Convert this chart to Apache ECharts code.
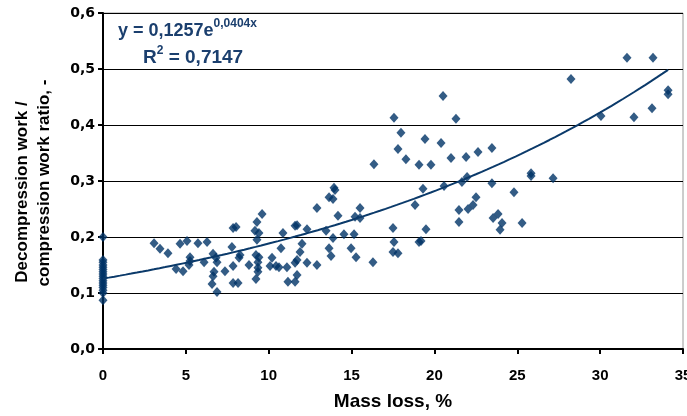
<!DOCTYPE html>
<html>
<head>
<meta charset="utf-8">
<script src="https://cdn.jsdelivr.net/npm/echarts@6/dist/echarts.min.js"></script>
<style>html,body{margin:0;padding:0;background:#fff;}#c{width:687px;height:416px;}</style>
</head>
<body>
<div id="c"></div>
<script>
// Mass loss at x = 0 (cluster)
const zeroY = [0.200, 0.159, 0.155, 0.150, 0.146, 0.142, 0.138, 0.134, 0.130, 0.126, 0.122, 0.118, 0.114, 0.110, 0.105, 0.100, 0.087];
// Mass loss, %
const massLoss = [3.08,3.44,3.92,4.41,4.83,4.65,5.07,5.25,5.25,5.19,5.73,6.10,6.28,6.64,6.82,6.88,6.70,6.64,6.58,6.88,
  7.36,7.78,7.85,7.85,8.03,7.85,8.15,8.27,8.21,8.81,9.17,9.29,9.60,9.41,9.29,9.23,9.41,9.35,9.35,9.35,9.23,
  10.20,10.08,10.44,10.62,10.74,10.86,11.10,11.16,11.59,11.71,11.59,11.71,11.89,12.01,11.59,11.71,12.31,12.31,
  12.91,12.91,13.46,13.64,13.88,13.94,14.00,14.18,13.88,13.64,13.76,14.54,15.15,14.97,15.27,15.21,15.51,15.51,
  16.29,16.35,17.50,17.56,17.50,17.80,17.56,17.98,17.80,18.28,19.07,19.79,19.43,20.40,20.52,21.30,21.00,21.91,
  22.63,23.47,18.83,19.31,20.58,21.66,21.97,22.51,22.33,22.03,21.48,21.48,19.49,19.07,19.19,23.47,23.54,23.84,
  24.08,23.96,24.80,25.29,25.83,25.83,27.16,28.24,30.05,31.62,33.19,32.04,33.13,34.10,34.10];
// Decompression work / compression work ratio
const workRatio = [0.189,0.179,0.171,0.143,0.139,0.188,0.193,0.164,0.157,0.150,0.189,0.155,0.191,0.170,0.163,0.155,0.138,0.130,0.116,0.102,
  0.139,0.182,0.148,0.216,0.218,0.118,0.118,0.168,0.163,0.150,0.211,0.227,0.241,0.207,0.195,0.168,0.164,0.155,0.145,0.138,0.125,
  0.163,0.148,0.148,0.146,0.180,0.207,0.146,0.120,0.120,0.132,0.154,0.159,0.173,0.188,0.220,0.221,0.214,0.154,
  0.150,0.252,0.211,0.271,0.268,0.288,0.284,0.238,0.198,0.180,0.166,0.205,0.205,0.180,0.164,0.236,0.234,0.252,
  0.155,0.330,0.216,0.191,0.173,0.171,0.413,0.386,0.357,0.339,0.329,0.329,0.375,0.368,0.452,0.411,0.341,0.343,
  0.352,0.359,0.257,0.286,0.291,0.298,0.307,0.271,0.257,0.250,0.248,0.227,0.214,0.191,0.193,0.296,0.234,0.241,
  0.225,0.213,0.280,0.225,0.314,0.309,0.305,0.482,0.416,0.520,0.520,0.414,0.430,0.462,0.455];
// Exponential trendline y = a * e^(b x)
const trendA = 0.1257, trendB = 0.0404;
const xTicks = [0, 5, 10, 15, 20, 25, 30, 35];
const yTicks = [0, 0.1, 0.2, 0.3, 0.4, 0.5, 0.6];

const points = zeroY.map(v => [0, v]).concat(massLoss.map((x, i) => [x, workRatio[i]]));
const xMaxData = Math.max.apply(null, massLoss);
const trend = [];
for (let i = 0; i <= 100; i++) { const x = xMaxData * i / 100; trend.push([x, trendA * Math.exp(trendB * x)]); }

const navy = '#003366';
const eqColor = '#1b3f6e';
const FF = 'Liberation Sans, Arial, sans-serif';
const chart = echarts.init(document.getElementById('c'), null, {renderer: 'canvas'});
chart.setOption({
  animation: false,
  grid: {left: 103, right: 4, top: 13, bottom: 67, containLabel: false, outerBoundsMode: 'none',
    show: true, borderColor: '#9a9a9a', borderWidth: 1},
  xAxis: {
    type: 'value', min: xTicks[0], max: xTicks[xTicks.length - 1], interval: 5,
    axisLine: {lineStyle: {color: '#000', width: 2}},
    axisTick: {show: true, length: 5, lineStyle: {color: '#000', width: 2}},
    axisLabel: {color: '#000', fontWeight: 'bold', fontSize: 15, fontFamily: FF, margin: 19, hideOverlap: false},
    splitLine: {show: false},
    name: 'Mass loss, %', nameLocation: 'middle', nameGap: 43,
    nameTextStyle: {color: '#000', fontWeight: 'bold', fontSize: 19, fontFamily: FF}
  },
  yAxis: {
    type: 'value', min: yTicks[0], max: yTicks[yTicks.length - 1], interval: 0.1,
    axisLine: {show: true, lineStyle: {color: '#000', width: 2}},
    axisTick: {show: true, length: 5, lineStyle: {color: '#000', width: 2}},
    axisLabel: {color: '#000', fontWeight: 'bold', fontSize: 14, fontFamily: 'DejaVu Sans, sans-serif', margin: 8,
      formatter: v => v.toFixed(1).replace('.', ',')},
    splitLine: {show: true, lineStyle: {color: '#000', width: 1}}
  },
  graphic: [
    {type: 'text', x: 22, y: 192, rotation: Math.PI / 2,
      style: {text: 'Decompression work /', fill: '#000', font: 'bold 17px Liberation Sans, Arial, sans-serif', textAlign: 'center', textVerticalAlign: 'middle'}},
    {type: 'text', x: 44, y: 183, rotation: Math.PI / 2,
      style: {text: 'compression work ratio, -', fill: '#000', font: 'bold 17px Liberation Sans, Arial, sans-serif', textAlign: 'center', textVerticalAlign: 'middle'}},
    {type: 'text', x: 118, y: 18, z: 100,
      style: {text: '{a|y = 0,1257e}{s|0,0404x}',
        rich: {a: {fontSize: 18, fontWeight: 'bold', fill: eqColor, lineHeight: 22, verticalAlign: 'bottom', fontFamily: FF},
               s: {fontSize: 12, fontWeight: 'bold', fill: eqColor, lineHeight: 13, verticalAlign: 'top', fontFamily: FF}}}},
    {type: 'text', x: 143, y: 45, z: 100,
      style: {text: '{a|R}{s|2}{a| = 0,7147}',
        rich: {a: {fontSize: 19, fontWeight: 'bold', fill: eqColor, lineHeight: 22, verticalAlign: 'bottom', fontFamily: FF},
               s: {fontSize: 12, fontWeight: 'bold', fill: eqColor, lineHeight: 13, verticalAlign: 'top', fontFamily: FF}}}}
  ],
  series: [
    {type: 'scatter', data: points, symbol: 'diamond', symbolSize: [9, 10], itemStyle: {color: navy}, z: 3},
    {type: 'line', data: trend, showSymbol: false, symbol: 'none', smooth: false, lineStyle: {color: '#0b3a6a', width: 2}, z: 4}
  ]
});
</script>
</body>
</html>
